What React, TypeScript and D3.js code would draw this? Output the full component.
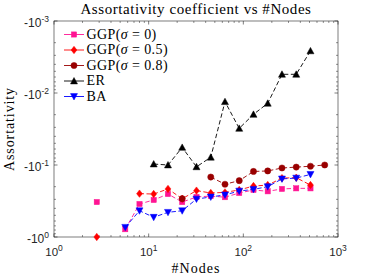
import React from 'react';
import * as d3 from 'd3';

const nodes = [2.83, 4, 5.66, 8, 11.3, 16, 22.6, 32, 45.3, 64, 90.5, 128, 181, 256, 362, 512, 724];
const ggp0 = [-0.327, null, -0.78, -0.348, -0.306, -0.253, -0.327, -0.278, -0.27, -0.28, -0.245, -0.222, -0.232, -0.215, -0.211, -0.211, null];
const ggp05 = [-1.0, null, null, -0.25, -0.253, -0.215, -0.294, -0.227, -0.245, -0.24, -0.222, -0.196, -0.19, -0.152, -0.15, -0.19, null];
const ggp08 = [null, null, null, null, null, null, -0.294, null, -0.147, -0.185, -0.165, -0.123, -0.121, -0.11, -0.107, -0.104, -0.1];
const er = [null, null, null, null, -0.097, -0.1, -0.057, -0.106, -0.078, -0.0132, -0.031, -0.0198, -0.0139, -0.0055, -0.0055, -0.0026, null];
const ba = [null, null, -0.733, -0.432, -0.532, -0.454, -0.432, -0.297, -0.278, -0.26, -0.23, -0.218, -0.2, -0.156, -0.152, -0.135, null];

const seriesNames = ['GGP(σ = 0)', 'GGP(σ = 0.5)', 'GGP(σ = 0.8)', 'ER', 'BA'];
const seriesValues = [ggp0, ggp05, ggp08, er, ba];
const seriesColors = ['#ff1493', '#ff0000', '#990000', '#000000', '#0000ff'];
const seriesMarkers = ['square', 'diamond', 'circle', 'triangle', 'triangledown'];

const xTickExps = [0, 1, 2, 3];
const yTickExps = [-3, -2, -1, 0];

const W = 373, H = 280;
const L = 54, R = 338, T = 21, B = 237;

const serif = 'Liberation Serif, Times New Roman, serif';
const sans = 'Liberation Sans, Arial, sans-serif';

function Marker({ type, x, y, color }: { type: string; x: number; y: number; color: string }) {
  if (type === 'square') return <rect x={x - 2.6} y={y - 2.6} width={5.2} height={5.2} fill={color} stroke={color} strokeWidth={0.5} />;
  if (type === 'diamond') return <path d={`M${x},${y - 3.7}L${x + 2.9},${y}L${x},${y + 3.7}L${x - 2.9},${y}Z`} fill={color} stroke={color} strokeWidth={0.5} />;
  if (type === 'circle') return <circle cx={x} cy={y} r={3.1} fill={color} stroke={color} strokeWidth={0.5} />;
  if (type === 'triangle') return <path d={`M${x},${y - 3.5}L${x + 3.5},${y + 2.9}L${x - 3.5},${y + 2.9}Z`} fill={color} stroke={color} strokeWidth={0.5} />;
  return <path d={`M${x},${y + 3.5}L${x + 3.5},${y - 2.9}L${x - 3.5},${y - 2.9}Z`} fill={color} stroke={color} strokeWidth={0.5} />;
}

export default function App() {
  const x = d3.scaleLog().domain([1, 1000]).range([L, R]);
  const y = d3.scaleLog().domain([-1, -0.001]).range([B, T]);
  const axisColor = '#262626';

  const xMinor: number[] = [];
  for (let e = 0; e < 3; e++) for (let m = 2; m <= 9; m++) xMinor.push(m * Math.pow(10, e));
  const yMinor: number[] = [];
  for (let e = -3; e < 0; e++) for (let m = 2; m <= 9; m++) yMinor.push(-m * Math.pow(10, e));

  const line = d3.line<[number, number | null]>()
    .defined(d => d[1] !== null)
    .x(d => x(d[0]))
    .y(d => y(d[1] as number));

  const legendY = [34.5, 50, 65.5, 81, 96.5];

  return (
    <svg width={W} height={H} style={{ position: 'absolute', left: 0, top: 0, background: '#fff' }}>
      <rect x={0} y={0} width={W} height={H} fill="#fff" />
      <rect x={L} y={T} width={R - L} height={B - T} fill="none" stroke={axisColor} strokeWidth={0.6} />
      {xTickExps.map(e => {
        const px = x(Math.pow(10, e));
        return (
          <g key={'xt' + e}>
            <line x1={px} x2={px} y1={B} y2={B - 3.5} stroke={axisColor} strokeWidth={0.6} />
            <line x1={px} x2={px} y1={T} y2={T + 3.5} stroke={axisColor} strokeWidth={0.6} />
            <text x={px} y={255.5} textAnchor="middle" fontFamily={sans} fontSize={11.5} fill={axisColor}>
              10<tspan dy={-5} fontSize={8.5}>{e}</tspan>
            </text>
          </g>
        );
      })}
      {xMinor.map((v, i) => {
        const px = x(v);
        return (
          <g key={'xm' + i}>
            <line x1={px} x2={px} y1={B} y2={B - 2} stroke={axisColor} strokeWidth={0.5} />
            <line x1={px} x2={px} y1={T} y2={T + 2} stroke={axisColor} strokeWidth={0.5} />
          </g>
        );
      })}
      {yTickExps.map(e => {
        const py = y(-Math.pow(10, e));
        return (
          <g key={'yt' + e}>
            <line x1={L} x2={L + 3.5} y1={py} y2={py} stroke={axisColor} strokeWidth={0.6} />
            <line x1={R} x2={R - 3.5} y1={py} y2={py} stroke={axisColor} strokeWidth={0.6} />
            <text x={49} y={py + 6} textAnchor="end" fontFamily={sans} fontSize={12} fill={axisColor}>
              -10<tspan dy={-5.5} fontSize={8.5}>{e}</tspan>
            </text>
          </g>
        );
      })}
      {yMinor.map((v, i) => {
        const py = y(v);
        return (
          <g key={'ym' + i}>
            <line x1={L} x2={L + 2} y1={py} y2={py} stroke={axisColor} strokeWidth={0.5} />
            <line x1={R} x2={R - 2} y1={py} y2={py} stroke={axisColor} strokeWidth={0.5} />
          </g>
        );
      })}
      {seriesValues.map((vals, si) => {
        const pts = nodes.map((n, i) => [n, vals[i]] as [number, number | null]);
        return (
          <g key={'s' + si}>
            <path d={line(pts) || ''} fill="none" stroke={seriesColors[si]} strokeWidth={0.9} strokeDasharray="4.5,2.5" />
            {pts.filter(p => p[1] !== null).map((p, i) => (
              <Marker key={i} type={seriesMarkers[si]} x={x(p[0])} y={y(p[1] as number)} color={seriesColors[si]} />
            ))}
          </g>
        );
      })}
      {seriesNames.map((name, si) => (
        <g key={'lg' + si}>
          <line x1={64} x2={84} y1={legendY[si]} y2={legendY[si]} stroke={seriesColors[si]} strokeWidth={0.9} />
          <Marker type={seriesMarkers[si]} x={74} y={legendY[si]} color={seriesColors[si]} />
          <text x={86.5} y={legendY[si] + 4} fontFamily={serif} fontSize={14} letterSpacing={0.4} fill="#000">
            {name.includes('σ') ? (
              <>
                {name.split('σ')[0]}<tspan fontStyle="italic">σ</tspan>{name.split('σ')[1]}
              </>
            ) : name}
          </text>
        </g>
      ))}
      <text x={(L + R) / 2} y={14} textAnchor="middle" fontFamily={serif} fontSize={15} letterSpacing={0.55} fill="#000">
        Assortativity coefficient vs #Nodes
      </text>
      <text x={(L + R) / 2} y={273} textAnchor="middle" fontFamily={serif} fontSize={14} letterSpacing={1} fill="#000">
        #Nodes
      </text>
      <text transform={`translate(13.5,${(T + B) / 2}) rotate(-90)`} textAnchor="middle" fontFamily={serif} fontSize={14} letterSpacing={0.9} fill="#000">
        Assortativity
      </text>
    </svg>
  );
}
